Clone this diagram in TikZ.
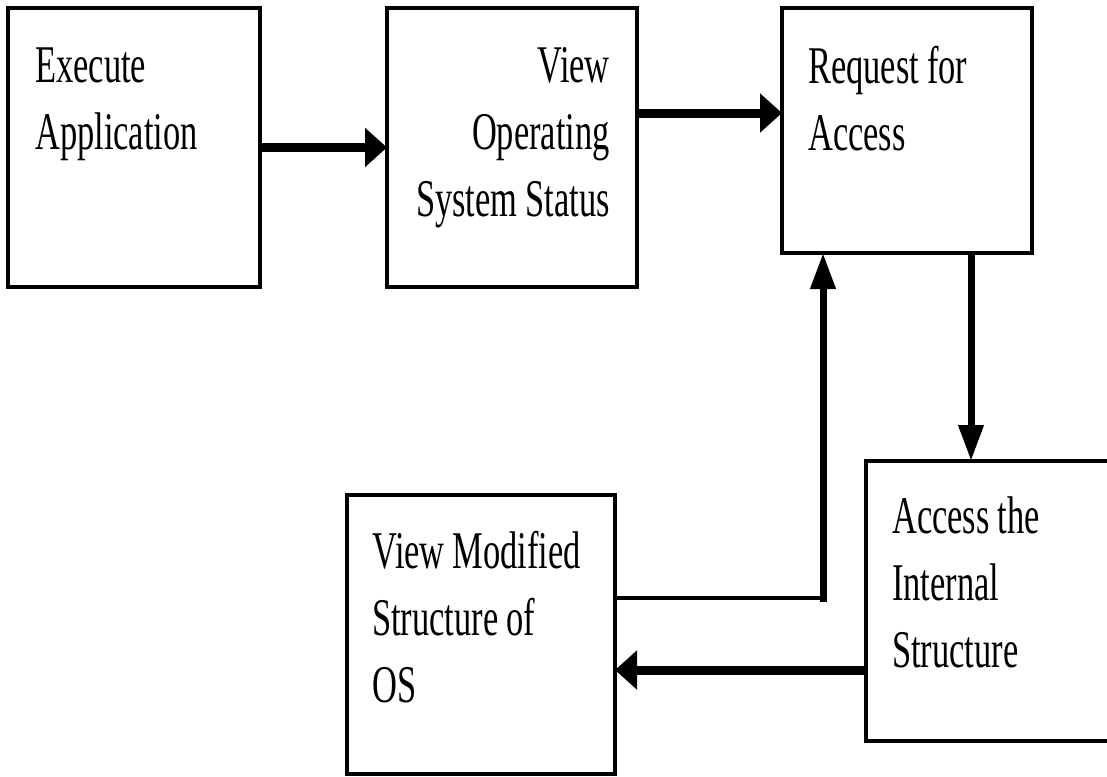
\documentclass[tikz,border=0pt]{standalone}
\usepackage{fontspec}
\setmainfont{Liberation Serif}[FakeStretch=0.65]
\usetikzlibrary{arrows.meta}
\begin{document}
\begin{tikzpicture}[x=1pt,y=-1pt,
    box/.style={draw,line width=4pt,outer sep=0pt,inner sep=0pt},
    txt/.style={inner sep=0pt,text width=250pt,font=\fontsize{53}{67}\selectfont,
      execute at begin node={\spaceskip=0.15em\xspaceskip=0.15em\relax}},
    harrow/.style={line width=9pt,-{Triangle[length=22pt,width=38pt]}},
    varrow/.style={line width=7pt,-{Triangle[length=36pt,width=24pt]}},
    thinline/.style={line width=4pt}]
      \useasboundingbox (0,0) rectangle (1107,776);
      \clip (0,0) rectangle (1107,776);

      \node[box,minimum width=252pt,minimum height=279pt] (exec) at (134,147.5) {};
      \node[box,minimum width=250pt,minimum height=279pt] (viewos) at (512,147.5) {};
      \node[box,minimum width=250pt,minimum height=245pt] (req) at (907,130.5) {};
      \node[box,minimum width=400pt,minimum height=280pt] (acc) at (1066,601) {};
      \node[box,minimum width=268pt,minimum height=279pt] (vmod) at (481,634.5) {};

      \node[txt,anchor=base west,align=left] at (35,82) {Execute\\Application};
      \node[txt,anchor=base east,align=right] at (610,82) {View\\Operating\\System Status};
      \node[txt,anchor=base west,align=left] at (808,83) {Request for\\Access};
      \node[txt,anchor=base west,align=left] at (892,533) {Access the\\Internal\\Structure};
      \node[txt,anchor=base west,align=left] at (372,568) {View Modified\\Structure of\\OS};

      \coordinate (a2) at ([yshift=34.5pt]viewos.east);
      \coordinate (a3) at ([xshift=64pt]req.south);
      \coordinate (a4) at ([yshift=-69pt]acc.west);
      \coordinate (a5) at ([yshift=36.5pt]vmod.east);
      \coordinate (r5) at ([xshift=-84pt]req.south);

      \draw[harrow] (exec.east) -- (exec.east -| viewos.west);
      \draw[harrow] (a2) -- (a2 -| req.west);
      \draw[varrow] (a3) -- (a3 |- acc.north);
      \draw[harrow] (a4) -- (a4 -| vmod.east);
      \draw[thinline] (a5) -- (a5 -| r5) coordinate (bend);
      \draw[varrow] ([yshift=-4pt]bend) -- (r5);
    \end{tikzpicture}
\end{document}
